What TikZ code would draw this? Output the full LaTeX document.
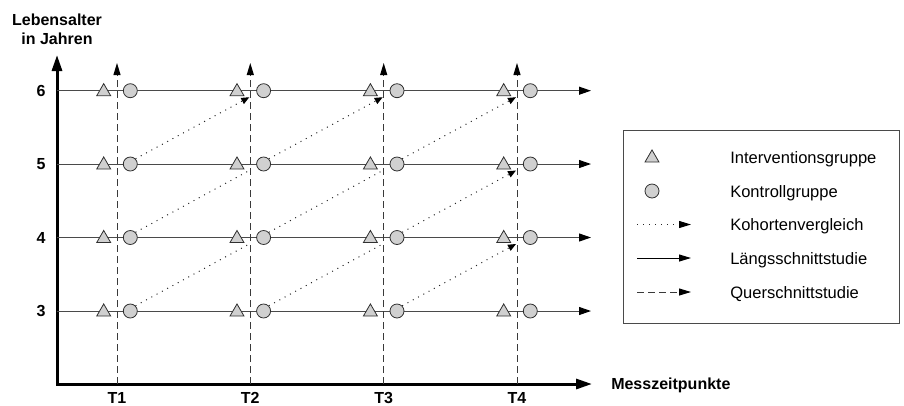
\documentclass[tikz,border=0pt]{standalone}
\usepackage{fontspec}
\setmainfont{Liberation Sans}
\usetikzlibrary{arrows.meta,shapes.geometric}
\definecolor{linegray}{HTML}{4A4A4A}
\definecolor{dashgray}{HTML}{3A3A3A}
\definecolor{symfill}{HTML}{D0D0D0}
\definecolor{symdraw}{HTML}{303030}
\pgfdeclarelayer{bg}
\pgfsetlayers{bg,main}
\begin{document}
\begin{tikzpicture}[x=0.75pt,y=-0.75pt,
  tri/.style={regular polygon, regular polygon sides=3, minimum size=12.1pt, inner sep=0pt, draw=symdraw, fill=symfill, line width=0.6pt},
  circ/.style={circle, minimum size=10.5pt, inner sep=0pt, draw=symdraw, fill=symfill, line width=0.6pt},
  axisline/.style={line width=2.25pt, black, line join=miter, {Triangle[length=12pt,width=7.5pt]}-{Triangle[length=12pt,width=7.5pt]}},
  rowline/.style={line width=0.75pt, linegray, -{Triangle[length=9pt,width=6pt,color=black]}},
  dashline/.style={line width=0.75pt, dashgray, dash pattern=on 5.25pt off 3pt, -{Triangle[length=9pt,width=5.25pt,color=black]}},
  dotline/.style={line width=0.75pt, black!85, dash pattern=on 0.75pt off 3.75pt},
  dotarrow/.style={dotline, -{Triangle[length=6pt,width=5pt,color=black]}},
  legarrow/.style={-{Triangle[length=9pt,width=5.25pt,color=black]}},
  boldlab/.style={font=\fontsize{12}{14}\selectfont\bfseries, inner sep=0pt},
  legtext/.style={font=\fontsize{12.4}{14}\selectfont, inner sep=0pt, anchor=base west}]
\useasboundingbox (0,0) rectangle (904,405);

% axes
\coordinate (ytop) at (57,55);
\coordinate (origin) at (57,384);
\coordinate (xend) at (592,384);
\draw[axisline] (ytop) -- (origin) -- (xend);
\node[boldlab, anchor=base] (ylab1) at (57,25) {Lebensalter};
\node[boldlab, anchor=base] (ylab2) at (57,44) {in Jahren};
\node[boldlab, anchor=base west] (xlab) at (611,389) {Messzeitpunkte};

% rows
\foreach \r/\y in {3/311,4/237.5,5/164,6/90.7}{
  \coordinate (rs-\r) at (57,\y);
  \coordinate (re-\r) at (591,\y);
  \draw[rowline] (rs-\r) -- (re-\r);
  \node[boldlab, anchor=base] (lab-\r) at (41,{\y+5.8}) {\r};
}

% columns
\foreach \i/\x in {1/117,2/250.3,3/383.7,4/517}{
  \coordinate (vb-\i) at (\x,384);
  \coordinate (vt-\i) at (\x,63);
  \draw[dashline] (vb-\i) -- (vt-\i);
  \node[boldlab, anchor=base] (tl-\i) at (\x,403.5) {T\i};
  \foreach \r/\y in {3/311,4/237.5,5/164,6/90.7}{
    \coordinate (e-\i-\r) at ({\x-1},{\y+6.5});
    \node[tri] (t-\i-\r) at ({\x-13.3},{\y+1}) {};
    \node[circ] (c-\i-\r) at ({\x+13.3},\y) {};
  }
}

% cohort comparisons
\begin{pgfonlayer}{bg}
\foreach \a/\b/\c/\d in {1/4/2/5, 1/3/2/4, 2/4/3/5, 2/3/3/4}{
  \draw[dotline] (c-\a-\b.north east) -- (e-\c-\d);
}
\foreach \a/\b/\c/\d in {1/5/2/6, 2/5/3/6, 3/5/4/6, 3/4/4/5, 3/3/4/4}{
  \draw[dotarrow] (c-\a-\b.north east) -- (e-\c-\d);
}
\end{pgfonlayer}

% legend
\draw[line width=0.75pt, linegray] (623.5,130) rectangle (899,323.5);
\node[tri] (leg-tri) at (652,158) {};
\node[circ] (leg-circ) at (652,191) {};
\coordinate (l1a) at (637,224.5); \coordinate (l1b) at (691,224.5);
\coordinate (l2a) at (637,258);   \coordinate (l2b) at (691,258);
\coordinate (l3a) at (637,292);   \coordinate (l3b) at (691,292);
\draw[dotline, legarrow] (l1a) -- (l1b);
\draw[line width=0.75pt, black, legarrow] (l2a) -- (l2b);
\draw[line width=0.75pt, dashgray, dash pattern=on 5.25pt off 3pt, legarrow] (l3a) -- (l3b);
\node[legtext] (lt1) at (730,163) {Interventionsgruppe};
\node[legtext] (lt2) at (730,197) {Kontrollgruppe};
\node[legtext] (lt3) at (730,230.5) {Kohortenvergleich};
\node[legtext] (lt4) at (730,264) {Längsschnittstudie};
\node[legtext] (lt5) at (730,298) {Querschnittstudie};
\end{tikzpicture}
\end{document}
